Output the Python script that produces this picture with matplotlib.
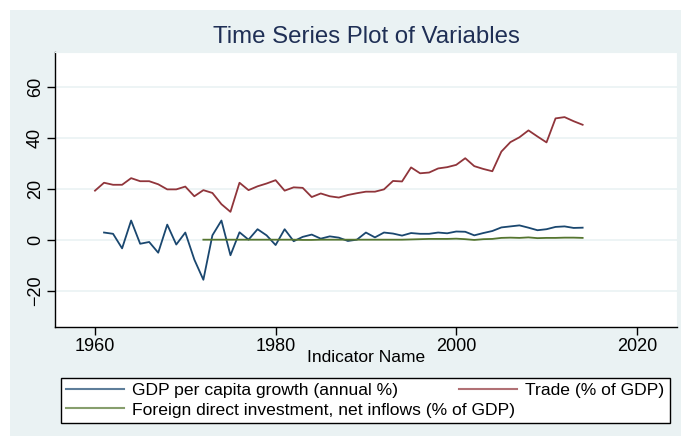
import matplotlib
matplotlib.use("Agg")
import matplotlib.pyplot as plt
from matplotlib.patches import Rectangle
import numpy as np

plt.rcParams['font.family'] = ['Liberation Sans', 'DejaVu Sans']

title = "Time Series Plot of Variables"
xlabel = "Indicator Name"
labels = ["GDP per capita growth (annual %)", "Trade (% of GDP)",
          "Foreign direct investment, net inflows (% of GDP)"]

years_trade = list(range(1960, 2015))
trade = [19.3, 22.4, 21.6, 21.6, 24.2, 23.0, 23.0, 21.8, 19.8, 19.8,
         20.9, 17.1, 19.5, 18.4, 14.0, 11.0, 22.4, 19.5, 21.0, 22.1,
         23.4, 19.3, 20.6, 20.4, 16.8, 18.2, 17.1, 16.6, 17.6, 18.3,
         18.9, 18.9, 19.8, 23.1, 22.9, 28.4, 26.1, 26.4, 28.0, 28.5,
         29.4, 32.0, 28.9, 27.8, 26.9, 34.6, 38.3, 40.2, 42.9, 40.5,
         38.2, 47.6, 48.1, 46.5, 45.1]

years_gdp = list(range(1961, 2015))
gdp = [2.9, 2.4, -3.3, 7.6, -1.5, -0.8, -5.0, 6.0, -1.8, 2.9,
       -7.7, -15.6, 1.8, 7.6, -6.0, 3.0, 0.1, 4.2, 1.8, -2.0,
       4.2, -0.5, 1.2, 2.1, 0.5, 1.4, 0.9, -0.4, 0.1, 2.9,
       1.0, 2.9, 2.5, 1.7, 2.7, 2.4, 2.4, 2.9, 2.6, 3.3,
       3.2, 1.8, 2.7, 3.5, 4.9, 5.3, 5.7, 4.8, 3.8, 4.2,
       5.1, 5.3, 4.7, 4.8]

years_fdi = list(range(1972, 2015))
fdi = [0.1, 0.1, 0.1, 0.1, 0.1, 0.1, 0.1, 0.1,
       0.1, 0.1, 0.1, 0.0, 0.0, 0.1, 0.1, 0.1, 0.1, 0.1,
       0.1, 0.1, 0.1, 0.1, 0.1, 0.2, 0.3, 0.4, 0.4, 0.4,
       0.5, 0.3, 0.0, 0.3, 0.4, 0.8, 0.9, 0.8, 1.0, 0.7,
       0.8, 0.8, 0.9, 0.9, 0.8]

xticks = [1960, 1980, 2000, 2020]
yticks = [-20, 0, 20, 40, 60]

W, H = 681, 438
bg = '#eaf2f3'
c_gdp, c_trade, c_fdi = '#1a476f', '#90353b', '#55752f'

fig = plt.figure(figsize=(W / 100, H / 100), dpi=100)
fig.patch.set_facecolor('white')
fig.patches.append(Rectangle((10 / W, 2 / H), 1 - 10 / W, (436 - 10) / H,
                             transform=fig.transFigure, facecolor=bg,
                             edgecolor='none', zorder=-10))

ax = fig.add_axes([55 / W, (H - 326.5) / H, (677 - 55) / W, (326.5 - 52) / H])
ax.set_facecolor('white')

ax.plot(years_gdp, gdp, color=c_gdp, lw=1.3, label=labels[0])
ax.plot(years_trade, trade, color=c_trade, lw=1.3, label=labels[1])
ax.plot(years_fdi, fdi, color=c_fdi, lw=1.3, label=labels[2])

ax.set_xlim(1955.57, 2024.45)
ax.set_ylim(-33.9, 73.6)
ax.set_xticks(xticks)
ax.set_yticks(yticks)
ax.grid(axis='y', color=bg, lw=1.2)
ax.set_axisbelow(True)
for s in ['top', 'right']:
    ax.spines[s].set_color(bg)
for s in ['left', 'bottom']:
    ax.spines[s].set_color('black')
    ax.spines[s].set_linewidth(1.0)
ax.tick_params(axis='both', direction='out', length=6, width=1, color='black',
               labelsize=13)
ax.tick_params(axis='x', pad=2)
ax.tick_params(axis='y', pad=2)
for lab in ax.get_yticklabels():
    lab.set_rotation(90)
    lab.set_va('center')

fig.text(366 / W, (H - 37) / H, title, ha='center', va='center',
         fontsize=17.3, color='#1f2f55')
fig.text(366 / W, (H - 358) / H, xlabel, ha='center', va='center',
         fontsize=12.5, color='black')

h, l = ax.get_legend_handles_labels()
order = [0, 2, 1]
leg = fig.legend([h[i] for i in order], [l[i] for i in order], ncol=2,
                 loc='center', mode='expand',
                 bbox_to_anchor=(60.7 / W, (H - 425) / H, (670 - 60.7) / W, (425 - 375.7) / H),
                 fontsize=12.6, frameon=True, fancybox=False, edgecolor='black',
                 facecolor='white', framealpha=1, handlelength=3.3,
                 handletextpad=0.5, borderpad=0.3, labelspacing=0.22,
                 borderaxespad=0)
leg.get_frame().set_linewidth(1.0)
for line in leg.get_lines():
    line.set_alpha(0.7)
    line.set_linewidth(1.5)

fig.savefig('out.png', dpi=100, facecolor=fig.get_facecolor())
